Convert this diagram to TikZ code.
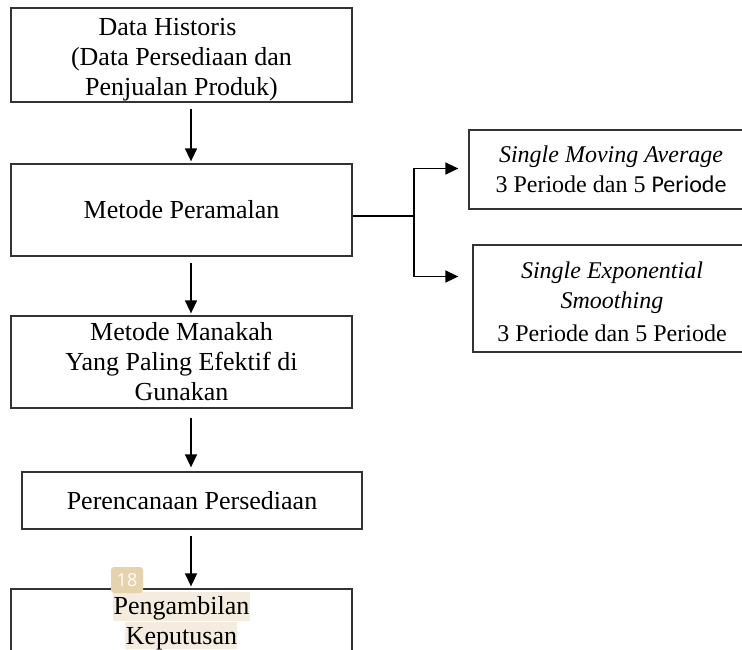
\documentclass[tikz,border=0pt]{standalone}
\usepackage{fontspec}
\setmainfont{Liberation Serif}
\newfontfamily\calibri{Carlito}
\newfontfamily\badgefont{Open Sans}
\usepackage{xcolor}
\usepackage{tikz}
\usetikzlibrary{arrows.meta, calc, positioning}

\definecolor{sorot}{HTML}{F4ECDF}
\definecolor{lencana}{HTML}{E6D2AD}

\begin{document}
\begin{tikzpicture}[x=1pt, y=-1pt, >={Triangle[length=13pt, width=12pt]},
    kotak/.style={draw=black!80, line width=1.3pt, inner sep=0pt, align=center,
        font=\fontsize{26}{30}\selectfont},
    kotakkanan/.style={kotak, font=\fontsize{24}{30}\selectfont},
    teks/.style={inner sep=0pt, align=center, font=\fontsize{26}{30}\selectfont},
    panah/.style={->, black, line width=1.6pt, shorten <=6pt, shorten >=2pt}]
    \clip (0,0) rectangle (742,649);

    % 1. Kotak-kotak alur utama di sebelah kiri
    \node[kotak, minimum width=341, minimum height=94] (historis) at (181.5,55) {};
    \node[teks] (historis-teks) at ($(historis.center)+(0,5)$)
        {Data Historis\hspace*{28pt}\\(Data Persediaan dan\\Penjualan Produk)};
    \node[kotak, minimum width=341, minimum height=92] (ramal) at (181.5,210)
        {Metode Peramalan};
    \node[kotak, minimum width=341, minimum height=92] (efektif) at (181.5,362)
        {Metode Manakah\\Yang Paling Efektif di\\Gunakan};
    \node[kotak, minimum width=340, minimum height=57] (rencana) at (192,500.5)
        {Perencanaan Persediaan};

    % sorotan di belakang teks kotak terakhir
    \fill[sorot] (113,592) rectangle (250,621);
    \fill[sorot] (125,622) rectangle (237,649);
    \node[kotak, minimum width=341, minimum height=68] (ambil) at (181.5,623)
        {Pengambilan\\Keputusan};

    % 2. Kotak-kotak metode di sebelah kanan
    \node[kotakkanan, minimum width=284, minimum height=79] (sma) at (611,169.5)
        {\textit{Single Moving Average}\\3 Periode dan 5 {\calibri Periode}};
    \node[kotakkanan, minimum width=278, minimum height=107] (ses) at (612,298.5)
        {\rule{0pt}{24pt}\textit{Single Exponential}\\\textit{Smoothing}\\[3pt]3 Periode dan 5 Periode};

    % 3. Panah-panah vertikal
    \coordinate (ax) at (191,0);
    \draw[panah] (historis.south -| ax) -- (ramal.north -| ax);
    \draw[panah] (ramal.south -| ax) -- (efektif.north -| ax);
    \draw[panah, shorten <=9pt, shorten >=4pt] (efektif.south -| ax) -- (rencana.north -| ax);
    \draw[panah] (rencana.south -| ax) -- (ambil.north -| ax);

    % 4. Percabangan ke metode peramalan
    \coordinate (cabang) at (414,216);
    \draw[black, line width=1.6pt] (ramal.east |- cabang) -- (cabang);
    \draw[panah, shorten <=0pt, shorten >=10pt] (cabang) |- ($(sma.west)+(0,-1)$);
    \draw[panah, shorten <=0pt, shorten >=14pt] (cabang) |- ($(ses.west)+(0,-22)$);

    % label halaman
    \node[fill=lencana, rounded corners=3pt, minimum width=32, minimum height=26,
        inner sep=0pt, text=white, font=\badgefont\fontsize{18}{18}\selectfont]
        (halaman) at (127,580) {18};
\end{tikzpicture}
\end{document}
